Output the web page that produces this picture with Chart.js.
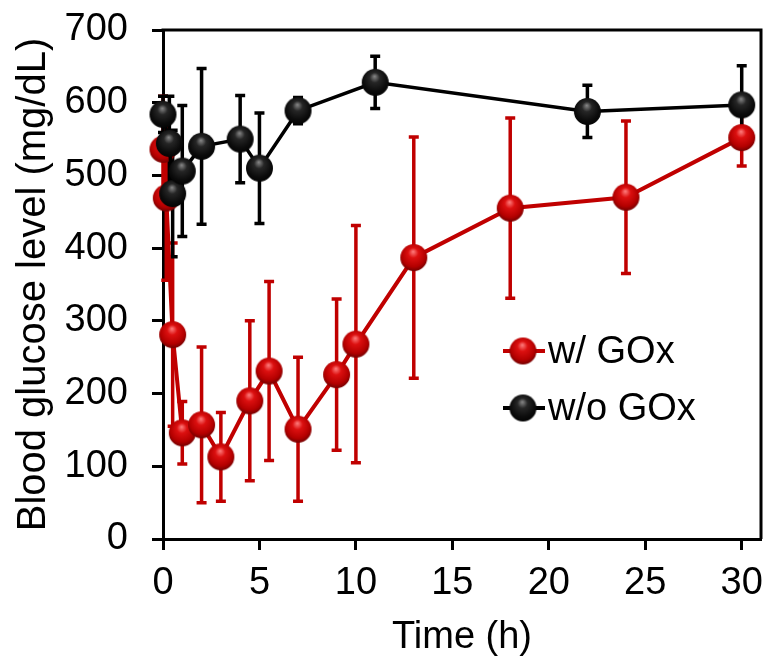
<!DOCTYPE html>
<html>
<head>
<meta charset="utf-8">
<script src="https://cdn.jsdelivr.net/npm/chart.js@4.4.0/dist/chart.umd.min.js"></script>
<style>
  html, body { margin: 0; padding: 0; background: #fff; }
  #wrap { width: 769px; height: 664px; }
</style>
</head>
<body>
<div id="wrap"><canvas id="glucoseChart" width="769" height="664"></canvas></div>
<script>
// values (time in h, glucose in mg/dL, error = +/- SD)
const timeGox = [0, 0.17, 0.5, 1, 2, 3, 4.5, 5.5, 7, 9, 10, 13, 18, 24, 30];
const glucoseGox = [536, 469, 281, 146, 157, 113, 190, 231, 151, 226, 268, 387, 455, 470, 552];
const errGox = [73, 113, 126, 43, 107, 61, 110, 123, 99, 104, 163, 166, 124, 105, 39];

const timeNoGox = [0, 0.33, 0.5, 1, 2, 4, 5, 7, 11, 22, 30];
const glucoseNoGox = [584, 544, 475, 506, 540, 550, 510, 589, 628, 588, 597];
const errNoGox = [25, 65, 87, 90, 107, 60, 76, 18, 36, 36, 54];

const xTicks = [0, 5, 10, 15, 20, 25, 30];
const yTicks = [0, 100, 200, 300, 400, 500, 600, 700];

const RED = '#c00000';
const BLACK = '#000000';
const FONT = "'Liberation Sans', Arial, sans-serif";

// shaded ball marker
function makeBall(r, c0, c1, c2, c3) {
  const cv = document.createElement('canvas');
  cv.width = cv.height = 2 * r + 2;
  const g = cv.getContext('2d');
  const cx = r + 1, cy = r + 1;
  const grad = g.createRadialGradient(cx - 0.05 * r, cy - 0.45 * r, 0, cx, cy - 0.1 * r, r * 1.25);
  grad.addColorStop(0, c0);
  grad.addColorStop(0.3, c1);
  grad.addColorStop(0.7, c2);
  grad.addColorStop(1, c3);
  g.fillStyle = grad;
  g.beginPath();
  g.arc(cx, cy, r, 0, Math.PI * 2);
  g.fill();
  return cv;
}
const redBall = makeBall(13.5, '#ff8080', '#dc1010', '#b40000', '#560000');
const blackBall = makeBall(13.5, '#8a8a8a', '#262626', '#0c0c0c', '#000000');

function pts(xs, ys) {
  return xs.map((x, i) => ({ x: x, y: ys[i] }));
}

const errorBars = {
  id: 'errorBars',
  beforeDatasetsDraw(chart) {
    const ctx = chart.ctx;
    const xs = chart.scales.x, ys = chart.scales.y;
    const sets = [[timeGox, glucoseGox, errGox, RED], [timeNoGox, glucoseNoGox, errNoGox, BLACK]];
    ctx.save();
    sets.forEach(([t, v, e, col]) => {
      ctx.strokeStyle = col;
      ctx.lineWidth = 3.5;
      t.forEach((tt, i) => {
        const px = xs.getPixelForValue(tt);
        const top = ys.getPixelForValue(v[i] + e[i]);
        const bot = ys.getPixelForValue(v[i] - e[i]);
        ctx.beginPath();
        ctx.moveTo(px, top); ctx.lineTo(px, bot);
        ctx.moveTo(px - 5, top); ctx.lineTo(px + 5, top);
        ctx.moveTo(px - 5, bot); ctx.lineTo(px + 5, bot);
        ctx.stroke();
      });
    });
    ctx.restore();
  }
};

const frameAndLegend = {
  id: 'frameAndLegend',
  afterDraw(chart) {
    const ctx = chart.ctx;
    const a = chart.chartArea;
    ctx.save();
    ctx.strokeStyle = '#000';
    ctx.lineWidth = 3;
    ctx.beginPath();
    ctx.moveTo(a.left - 1.5, a.top);
    ctx.lineTo(a.right, a.top);
    ctx.lineTo(a.right, a.bottom);
    ctx.stroke();

    // legend
    const items = [['w/ GOx', RED, redBall, 351], ['w/o GOx', BLACK, blackBall, 408]];
    ctx.font = '38px ' + FONT;
    ctx.textBaseline = 'middle';
    ctx.textAlign = 'left';
    items.forEach(([label, col, ball, y]) => {
      ctx.strokeStyle = col;
      ctx.lineWidth = 4;
      ctx.beginPath();
      ctx.moveTo(503, y); ctx.lineTo(545, y);
      ctx.stroke();
      ctx.drawImage(ball, 523 - ball.width / 2, y - ball.height / 2);
      ctx.fillStyle = '#000';
      ctx.fillText(label, 548, y + 2);
    });
    ctx.restore();
  }
};

new Chart(document.getElementById('glucoseChart'), {
  type: 'line',
  data: {
    datasets: [
      {
        label: 'w/o GOx',
        data: pts(timeNoGox, glucoseNoGox),
        borderColor: BLACK,
        borderWidth: 3.5,
        pointStyle: blackBall,
        clip: false,
        tension: 0
      },
      {
        label: 'w/ GOx',
        data: pts(timeGox, glucoseGox),
        borderColor: RED,
        borderWidth: 4,
        pointStyle: redBall,
        clip: false,
        tension: 0
      }
    ]
  },
  options: {
    responsive: false,
    animation: false,
    layout: { padding: { top: 30, right: 5, left: 0, bottom: 0 } },
    plugins: { legend: { display: false }, tooltip: { enabled: false } },
    scales: {
      x: {
        type: 'linear',
        min: 0,
        max: 31,
        afterFit(s) { s.height = 125; s.paddingLeft = 0; s.paddingRight = 0; },
        afterBuildTicks(s) { s.ticks = xTicks.map(v => ({ value: v })); },
        border: { color: '#000', width: 3 },
        grid: { drawOnChartArea: false, tickLength: 11, tickWidth: 3, tickColor: '#000' },
        ticks: { color: '#000', font: { family: FONT, size: 38 }, padding: 11, maxRotation: 0 },
        title: { display: true, text: 'Time (h)', color: '#000', font: { family: FONT, size: 38 }, padding: { top: 0, bottom: 4 } }
      },
      y: {
        min: 0,
        max: 700,
        afterFit(s) { s.width = 163; s.paddingTop = 0; s.paddingBottom = 0; },
        afterBuildTicks(s) { s.ticks = yTicks.map(v => ({ value: v })); },
        border: { color: '#000', width: 3 },
        grid: { drawOnChartArea: false, tickLength: 11, tickWidth: 3, tickColor: '#000' },
        ticks: { color: '#000', font: { family: FONT, size: 38 }, padding: 24 },
        title: { display: true, text: 'Blood glucose level (mg/dL)', color: '#000', font: { family: FONT, size: 40 }, padding: { top: 10, bottom: 0 } }
      }
    }
  },
  plugins: [errorBars, frameAndLegend]
});
</script>
</body>
</html>
